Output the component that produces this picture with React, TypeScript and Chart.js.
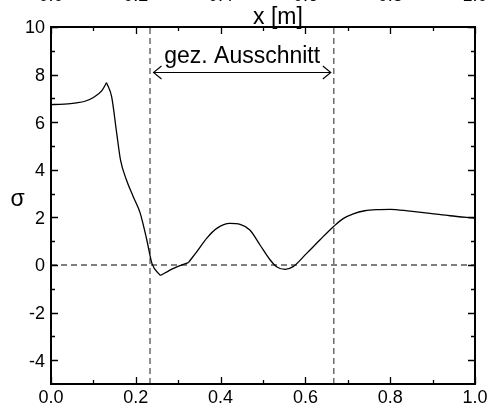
import { useEffect, useRef } from 'react';
import { Chart, registerables } from 'chart.js';

Chart.register(...registerables);

// Stress curve along the beam
const positionX = [
  0.0, 0.02, 0.04, 0.06, 0.08, 0.1, 0.12, 0.131, 0.143, 0.155, 0.164, 0.178, 0.194,
  0.21, 0.226, 0.238, 0.258, 0.289, 0.324, 0.344, 0.367, 0.391, 0.422, 0.446, 0.469,
  0.493, 0.517, 0.532, 0.552, 0.571, 0.603, 0.634, 0.666, 0.689, 0.713, 0.74, 0.77,
  0.8, 0.847, 0.894, 0.941, 1.0,
];
const sigmaValues = [
  6.74, 6.75, 6.77, 6.81, 6.88, 7.04, 7.33, 7.66, 7.07, 5.53, 4.41, 3.57, 2.87,
  2.2, 1.05, 0.07, -0.44, -0.14, 0.1, 0.56, 1.12, 1.54, 1.75, 1.71, 1.47,
  0.84, 0.21, -0.07, -0.18, -0.07, 0.49, 1.05, 1.61, 1.95, 2.15, 2.28, 2.33,
  2.34, 2.26, 2.17, 2.07, 1.97,
];
// indices where the curve has a corner (peak, trough, kink)
const cornerIndices = [7, 16, 18];

// Section boundaries and annotation
const cutStart = 0.2335;
const cutEnd = 0.667;
const arrowLevel = 8.1;
const cutLabel = 'gez. Ausschnitt';

// Axis ranges and titles
const xRange = [0, 1];
const yRange = [-5, 10];
const xStep = 0.2;
const yStep = 2;
const xTitle = 'x [m]';
const yTitle = 'σ';

const FONT = '"Liberation Sans", Arial, Helvetica, sans-serif';

const frameAndNotes = {
  id: 'frameAndNotes',
  afterDraw(chart: any) {
    const { ctx, chartArea: a, scales } = chart;
    const xs = scales.x;
    const ys = scales.y;
    ctx.save();
    ctx.strokeStyle = '#000';
    ctx.fillStyle = '#000';

    // inward tick marks on all four sides
    const major = 7;
    const minor = 4;
    const mids = (vals: number[], lo: number, hi: number) => {
      const out: number[] = [];
      const step = vals[1] - vals[0];
      for (let i = 0; i < vals.length - 1; i++) out.push((vals[i] + vals[i + 1]) / 2);
      if (vals[0] - step / 2 > lo) out.unshift(vals[0] - step / 2);
      if (vals[vals.length - 1] + step / 2 < hi) out.push(vals[vals.length - 1] + step / 2);
      return out;
    };
    const xMaj = xs.ticks.map((t: any) => t.value);
    const yMaj = ys.ticks.map((t: any) => t.value);
    const xMin = mids(xMaj, xRange[0], xRange[1]);
    const yMin = mids(yMaj, yRange[0], yRange[1]);
    ctx.lineWidth = 1.3;
    ctx.beginPath();
    const xTick = (v: number, len: number) => {
      const p = Math.round(xs.getPixelForValue(v)) + 0.5;
      ctx.moveTo(p, a.bottom);
      ctx.lineTo(p, a.bottom - len);
      ctx.moveTo(p, a.top);
      ctx.lineTo(p, a.top + len);
    };
    const yTick = (v: number, len: number) => {
      const p = Math.round(ys.getPixelForValue(v)) + 0.5;
      ctx.moveTo(a.left, p);
      ctx.lineTo(a.left + len, p);
      ctx.moveTo(a.right, p);
      ctx.lineTo(a.right - len, p);
    };
    xMaj.forEach((v: number) => xTick(v, major));
    xMin.forEach((v: number) => xTick(v, minor));
    yMaj.forEach((v: number) => yTick(v, major));
    yMin.forEach((v: number) => yTick(v, minor));
    ctx.stroke();

    // plot frame
    ctx.lineWidth = 2;
    ctx.strokeRect(a.left, a.top, a.right - a.left, a.bottom - a.top);

    // double arrow marking the section
    const ay = Math.round(ys.getPixelForValue(arrowLevel)) + 0.5;
    const x1 = xs.getPixelForValue(cutStart) + 3.5;
    const x2 = xs.getPixelForValue(cutEnd) - 3;
    ctx.lineWidth = 1.1;
    ctx.beginPath();
    ctx.moveTo(x1, ay);
    ctx.lineTo(x2, ay);
    ctx.moveTo(x1 + 8, ay - 6.5);
    ctx.lineTo(x1, ay);
    ctx.lineTo(x1 + 8, ay + 6.5);
    ctx.moveTo(x2 - 8, ay - 6.5);
    ctx.lineTo(x2, ay);
    ctx.lineTo(x2 - 8, ay + 6.5);
    ctx.stroke();

    ctx.font = `23px ${FONT}`;
    ctx.textAlign = 'center';
    ctx.textBaseline = 'alphabetic';
    ctx.fillText(cutLabel, (x1 + x2) / 2, ay - 9.5);

    // axis titles
    ctx.fillText(xTitle, (a.left + a.right) / 2 + 15, a.top - 3);
    ctx.fillText(yTitle, 17.5, (a.top + a.bottom) / 2);
    ctx.restore();
  },
};

export default function App() {
  const canvasRef = useRef<HTMLCanvasElement | null>(null);

  useEffect(() => {
    const canvas = canvasRef.current;
    if (!canvas) return;

    const curve = positionX.map((x, i) => ({ x, y: sigmaValues[i] }));
    // split the curve at its corners so each smooth stretch is interpolated on its own
    const bounds = [0, ...cornerIndices, curve.length - 1];
    const curvePieces = bounds.slice(0, -1).map((start, k) => ({
      data: curve.slice(start, bounds[k + 1] + 1),
      borderColor: '#000',
      borderWidth: 1.3,
      pointRadius: 0,
      showLine: true,
      cubicInterpolationMode: 'monotone',
    }));

    const dashed = {
      borderColor: '#555',
      borderWidth: 1.3,
      borderDash: [6, 4],
      pointRadius: 0,
      showLine: true,
      tension: 0,
    };

    const noPad = (s: any) => {
      s.paddingLeft = 0;
      s.paddingRight = 0;
      s.paddingTop = 0;
      s.paddingBottom = 0;
    };
    const tickFont = { family: FONT, size: 18 };

    const chart = new Chart(canvas, {
      type: 'scatter',
      data: {
        datasets: [
          ...curvePieces,
          { data: [{ x: cutStart, y: yRange[0] }, { x: cutStart, y: yRange[1] }], ...dashed },
          { data: [{ x: cutEnd, y: yRange[0] }, { x: cutEnd, y: yRange[1] }], ...dashed },
          { data: [{ x: xRange[0], y: 0 }, { x: xRange[1], y: 0 }], ...dashed },
        ],
      },
      options: {
        animation: false,
        responsive: false,
        events: [],
        layout: { padding: { left: 0, top: 0, right: 15, bottom: 0 } },
        plugins: { legend: { display: false }, tooltip: { enabled: false } },
        scales: {
          x: {
            type: 'linear',
            position: 'bottom',
            min: xRange[0],
            max: xRange[1],
            grid: { display: false, drawTicks: false },
            border: { display: false },
            ticks: {
              stepSize: xStep,
              padding: 3,
              color: '#000',
              font: tickFont,
              maxRotation: 0,
              autoSkip: false,
              callback: (v: any) => Number(v).toFixed(1),
            },
            afterFit: (s: any) => {
              s.height = 23;
              noPad(s);
            },
          },
          x2: {
            type: 'linear',
            position: 'top',
            min: xRange[0],
            max: xRange[1],
            grid: { display: false, drawTicks: false },
            border: { display: false },
            ticks: {
              stepSize: xStep,
              padding: 20,
              color: '#000',
              font: tickFont,
              maxRotation: 0,
              autoSkip: false,
              callback: (v: any) => Number(v).toFixed(1),
            },
            afterFit: (s: any) => {
              s.height = 27;
              noPad(s);
            },
          },
          y: {
            type: 'linear',
            position: 'left',
            min: yRange[0],
            max: yRange[1],
            grid: { display: false, drawTicks: false },
            border: { display: false },
            ticks: {
              stepSize: yStep,
              includeBounds: false,
              padding: 6,
              labelOffset: 1.5,
              color: '#000',
              font: tickFont,
            },
            afterFit: (s: any) => {
              s.width = 51;
              noPad(s);
            },
          },
        },
      },
      plugins: [frameAndNotes],
    } as any);

    return () => chart.destroy();
  }, []);

  return (
    <div style={{ position: 'absolute', left: 0, top: 0, width: 490, height: 407 }}>
      <canvas ref={canvasRef} width={490} height={407} style={{ width: 490, height: 407 }} />
    </div>
  );
}
